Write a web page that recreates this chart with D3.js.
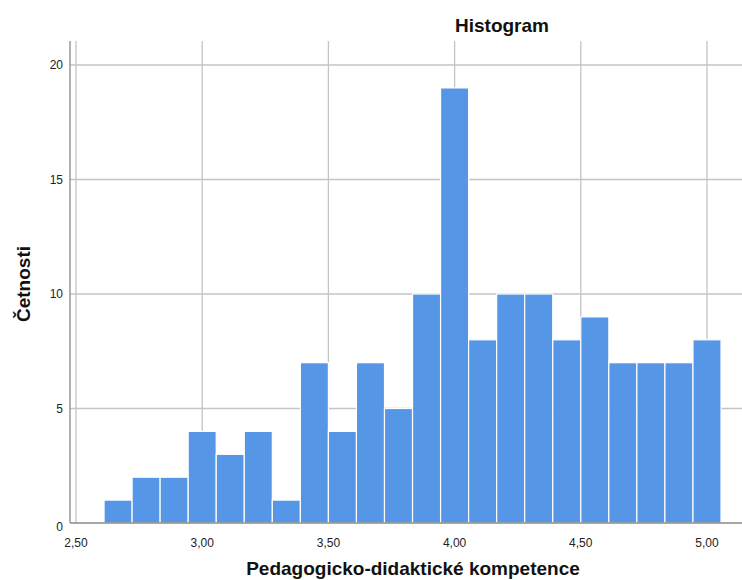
<!DOCTYPE html>
<html><head><meta charset="utf-8">
<script src="https://cdn.jsdelivr.net/npm/d3@7"></script>
<style>body{margin:0;background:#fff}svg{display:block;font-family:Arial,"Liberation Sans",sans-serif}</style>
</head><body><svg id="c" width="742" height="580"></svg>
<script>
const binStart = 2.5 + 1/9;
const binWidth = 1/9;
const counts = [1,2,2,4,3,4,1,7,4,7,5,10,19,8,10,10,8,9,7,7,7,8];
const xTicks = [2.5,3.0,3.5,4.0,4.5,5.0];
const yTicks = [0,5,10,15,20];
const title = "Histogram";
const xLabel = "Pedagogicko-didaktické kompetence";
const yLabel = "Četnosti";

(function(){
const svg = d3.select("#c");
const pLeft = 70, pTop = 41, pBottom = 523, pRight = 742;
const x = d3.scaleLinear().domain([2.5, 3.0]).range([76, 202.2]);
const y = d3.scaleLinear().domain([0, 20]).range([pBottom, 65]);
const fmt = v => d3.format(".2f")(v).replace(".", ",");

// grid
svg.append("g").selectAll("line").data(xTicks).join("line")
  .attr("x1", d => x(d)).attr("x2", d => x(d)).attr("y1", pTop).attr("y2", pBottom)
  .attr("stroke", "#c4c4c4").attr("stroke-width", 1.3);
svg.append("g").selectAll("line").data(yTicks.filter(d => d > 0)).join("line")
  .attr("x1", pLeft).attr("x2", pRight).attr("y1", d => y(d)).attr("y2", d => y(d))
  .attr("stroke", "#c4c4c4").attr("stroke-width", 1.3);

// bars
svg.append("g").selectAll("rect").data(counts).join("rect")
  .attr("x", (d, i) => x(binStart + i * binWidth))
  .attr("width", (d, i) => x(binStart + (i + 1) * binWidth) - x(binStart + i * binWidth))
  .attr("y", d => y(d)).attr("height", d => y(0) - y(d))
  .attr("fill", "#5596e6").attr("stroke", "#ffffff").attr("stroke-width", 1.2);

// axes lines
svg.append("line").attr("x1", pLeft).attr("x2", pLeft).attr("y1", pTop).attr("y2", pBottom)
  .attr("stroke", "#888").attr("stroke-width", 1.3);
svg.append("line").attr("x1", pLeft).attr("x2", pRight).attr("y1", pBottom).attr("y2", pBottom)
  .attr("stroke", "#888").attr("stroke-width", 1.3);

// tick labels
svg.append("g").selectAll("text").data(yTicks).join("text")
  .attr("x", 63).attr("y", d => y(d) + (d === 0 ? 4 : 0)).attr("dy", "0.35em")
  .attr("text-anchor", "end").attr("font-size", 12).attr("fill", "#222").text(d => d);
svg.append("g").selectAll("text").data(xTicks).join("text")
  .attr("x", d => x(d)).attr("y", 543).attr("dy", "0.35em")
  .attr("text-anchor", "middle").attr("font-size", 12).attr("fill", "#222").text(fmt);

// titles
svg.append("text").attr("x", 502).attr("y", 32).attr("text-anchor", "middle")
  .attr("font-size", 19).attr("font-weight", "bold").attr("fill", "#111").text(title);
svg.append("text").attr("x", 413).attr("y", 575).attr("text-anchor", "middle")
  .attr("font-size", 19).attr("font-weight", "bold").attr("fill", "#111").text(xLabel);
svg.append("text").attr("transform", "translate(30,284) rotate(-90)").attr("text-anchor", "middle")
  .attr("font-size", 19).attr("font-weight", "bold").attr("fill", "#111").text(yLabel);
})();
</script></body></html>
